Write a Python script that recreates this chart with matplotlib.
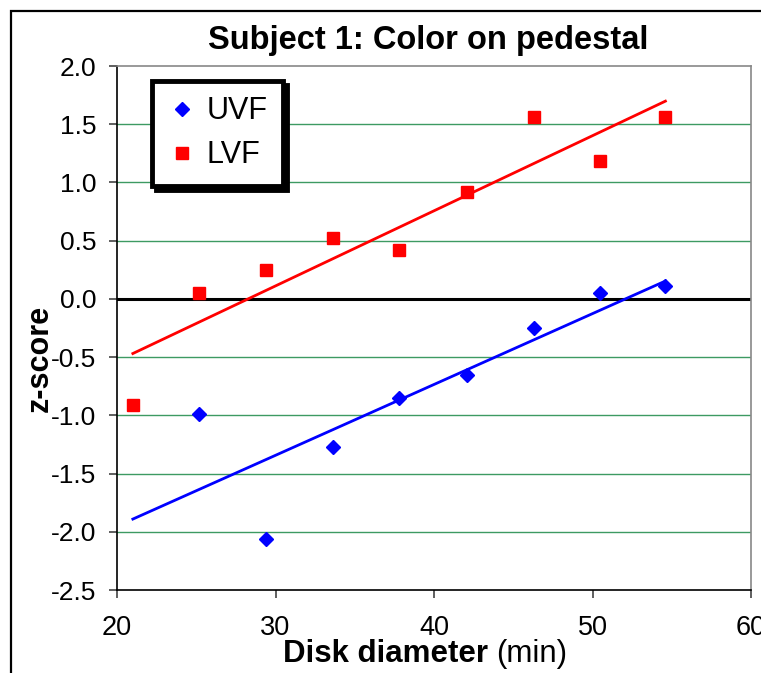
import numpy as np
import matplotlib
matplotlib.use("Agg")
import matplotlib.pyplot as plt
from matplotlib.patches import Rectangle

plt.rcParams['font.family'] = ['Liberation Sans', 'DejaVu Sans']

# disk diameter (min)
lvf_x = [21.0, 25.2, 29.4, 33.6, 37.8, 42.1, 46.3, 50.5, 54.6]
lvf_z = [-0.91, 0.05, 0.25, 0.52, 0.42, 0.92, 1.56, 1.18, 1.56]
uvf_x = [25.2, 29.4, 33.6, 37.8, 42.1, 46.3, 50.5, 54.6]
uvf_z = [-0.99, -2.06, -1.27, -0.85, -0.65, -0.25, 0.05, 0.11]

fig = plt.figure(figsize=(7.61, 6.73), dpi=100)
ax = fig.add_axes([117/761, 1 - 590/673, 634/761, 524/673])

ax.set_xlim(20, 60)
ax.set_ylim(-2.5, 2.0)
ax.set_xticks([20, 30, 40, 50, 60])
ax.set_yticks(np.arange(-2.5, 2.01, 0.5))
ax.yaxis.set_major_formatter(matplotlib.ticker.FormatStrFormatter('%.1f'))

for y in np.arange(-2.5, 2.01, 0.5):
    if -2.5 < y < 2.0 and abs(y) > 1e-9:
        ax.axhline(y, color='#3d9a62', lw=1.0, zorder=1)
ax.axhline(0, color='black', lw=2.2, zorder=2)

# linear trend lines over the full data range
xfit = np.array([min(lvf_x), max(lvf_x)])
for xs, zs, c in [(uvf_x, uvf_z, 'blue'), (lvf_x, lvf_z, 'red')]:
    k, b = np.polyfit(xs, zs, 1)
    ax.plot(xfit, k * xfit + b, color=c, lw=2.0, zorder=3)

ax.plot(uvf_x, uvf_z, 'D', color='blue', ms=7, ls='none', label='UVF', zorder=4)
ax.plot(lvf_x, lvf_z, 's', color='red', ms=8, ls='none', label='LVF', zorder=4)

for s in ['left', 'bottom']:
    ax.spines[s].set_color('black')
    ax.spines[s].set_linewidth(1.2)
for s in ['top', 'right']:
    ax.spines[s].set_color('#888888')
    ax.spines[s].set_linewidth(1.2)

ax.tick_params(axis='y', direction='out', length=6, width=1.2, color='#444444',
               labelsize=19, pad=9)
ax.tick_params(axis='x', direction='out', length=6, width=1.2, color='#444444',
               labelsize=19.5, pad=12)

fig.text(428/761, 1 - 49/673, 'Subject 1: Color on pedestal', fontsize=23.5,
         fontweight='bold', ha='center', va='baseline')
fig.text(40/761, 1 - 358/673, 'z-score', fontsize=22, fontweight='bold',
         rotation=90, ha='center', va='center')

# x label: bold part + plain units
xl = fig.text(283/761, 1 - 662/673, 'Disk diameter', fontsize=22.5, fontweight='bold',
              ha='left', va='baseline')
ax.annotate('(min)', xy=(1, 0), xycoords=xl, xytext=(6, 0), textcoords='offset points',
            fontsize=22.5, ha='left', va='bottom', annotation_clip=False)

leg = ax.legend(loc='upper left', bbox_to_anchor=(0.055, 0.971), borderaxespad=0,
                fontsize=22, frameon=True, fancybox=False, handletextpad=0.3,
                handlelength=1.0, borderpad=0.5, labelspacing=0.45,
                shadow={'ox': 3, 'oy': -3, 'color': 'black', 'alpha': 1},
                framealpha=1)
leg.get_frame().set_edgecolor('black')
leg.get_frame().set_linewidth(3.5)

# outer chart border (runs off the right and bottom edges)
fig.patches.append(Rectangle((11/761, -0.1), 1.2, 1.1 - 11/673, transform=fig.transFigure,
                             fill=False, edgecolor='black', lw=1.6))

fig.savefig('out.png', dpi=100)
